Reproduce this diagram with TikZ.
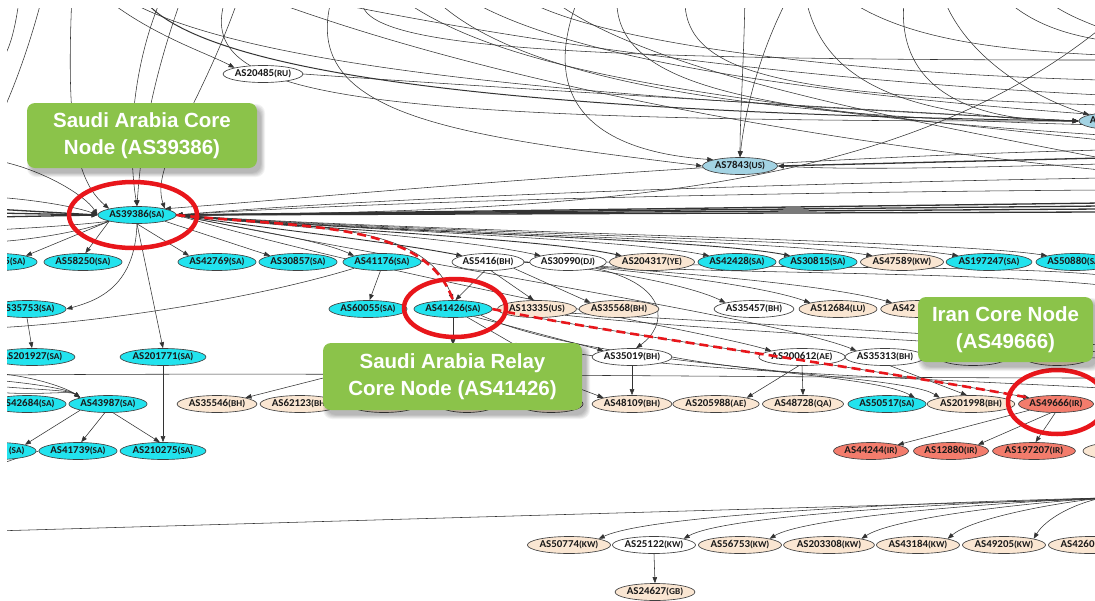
\documentclass[tikz,border=0pt]{standalone}
\usepackage{fontspec}
\setmainfont{Carlito}
\newfontfamily\asfont[FakeStretch=1.04]{Carlito}
\newfontfamily\notefont{Liberation Sans}
\usetikzlibrary{arrows.meta,shapes.geometric}
\pgfdeclarelayer{edgelayer}
\pgfsetlayers{edgelayer,main}

\definecolor{sacyan}{HTML}{22E3EE}
\definecolor{asbeige}{HTML}{FAE6D2}
\definecolor{irsalmon}{HTML}{F37C6C}
\definecolor{usblue}{HTML}{A3D3E3}
\definecolor{notegreen}{HTML}{8BC34A}
\definecolor{markred}{HTML}{E8161B}

% AS number with its country code set smaller
\newcommand\asn[2]{{\fontsize{10.5}{11}\selectfont AS#1}{\fontsize{9}{11}\selectfont(#2)}}
% soft shadow below-right of a callout box (x1,y1,x2,y2)
\newcommand\softshadow[4]{%
  \foreach \sh in {0,...,5}{%
    \fill[black,opacity=0.05,rounded corners=9pt]
      ({#1+4-0.8*\sh},{#2+5-0.8*\sh}) rectangle ({#3+4+0.8*\sh},{#4+5+0.8*\sh});}}

\begin{document}
\begin{tikzpicture}[x=1pt,y=-1pt,
  asnode/.style={ellipse, draw=black!75, line width=0.65pt, minimum width=70pt,
    minimum height=17pt, inner sep=0pt, font=\asfont\bfseries, text=black!90},
  asSA/.style={asnode, fill=sacyan},
  asBE/.style={asnode, fill=asbeige},
  asWH/.style={asnode, fill=white},
  asIR/.style={asnode, fill=irsalmon},
  asUS/.style={asnode, fill=usblue},
  link/.style={draw=black!80, line width=0.55pt, -{Triangle[length=6pt,width=4.5pt]}},
  linkthick/.style={link, line width=1.3pt},
  linkplain/.style={draw=black!80, line width=0.55pt},
  notebox/.style={fill=notegreen, rounded corners=8pt, text=white, align=center,
    inner sep=0pt, font=\notefont\bfseries\fontsize{20.5}{27}\selectfont},
  markring/.style={draw=markred, line width=4.5pt},
  markpath/.style={draw=markred, line width=2.6pt, dash pattern=on 9pt off 5pt}]

\useasboundingbox (0,0) rectangle (1095,600);

% ---------------- nodes ----------------
\begin{scope}
\clip (7,8) rectangle (1095,600);
\node[asWH] (n20485) at (263,74) {\asn{20485}{RU}};
\node[asUS, minimum width=75pt] (n7843) at (740,166) {\asn{7843}{US}};
\node[asUS, minimum width=72pt] (nR) at (1115,121)
  {{\fontsize{10.5}{11}\selectfont A\phantom{S0000}}{\fontsize{9}{11}\selectfont\phantom{(XX)}}};
\node[asSA] (n39386) at (137,215) {\asn{39386}{SA}};

% row 262
\node[asSA] (n5sa) at (-2,262)
  {{\fontsize{10.5}{11}\selectfont\phantom{AS4000}5}{\fontsize{9}{11}\selectfont(SA)}};
\node[asSA] (n58250) at (83,262) {\asn{58250}{SA}};
\node[asSA] (n42769) at (217,262) {\asn{42769}{SA}};
\node[asSA] (n30857) at (298,262) {\asn{30857}{SA}};
\node[asSA] (n41176) at (382,262) {\asn{41176}{SA}};
\node[asWH] (n5416) at (488,262) {\asn{5416}{BH}};
\node[asWH] (n30990) at (568,262) {\asn{30990}{DJ}};
\node[asBE, minimum width=77pt] (n204317) at (652,262) {\asn{204317}{YE}};
\node[asSA] (n42428) at (737,262) {\asn{42428}{SA}};
\node[asSA] (n30815) at (818,262) {\asn{30815}{SA}};
\node[asBE, minimum width=75pt] (n47589) at (902,262) {\asn{47589}{KW}};
\node[asSA, minimum width=76pt] (n197247) at (989,262) {\asn{197247}{SA}};
\node[asSA] (n50880) at (1075,262) {\asn{50880}{SA}};

% row 309
\node[asSA] (n35753) at (27,309) {\asn{35753}{SA}};
\node[asSA] (n60055) at (368,309) {\asn{60055}{SA}};
\node[asSA] (n41426) at (453,309) {\asn{41426}{SA}};
\node[asBE] (n13335) at (537,309) {\asn{13335}{US}};
\node[asBE, minimum width=73pt] (n35568) at (619,309) {\asn{35568}{BH}};
\node[asWH, minimum width=72pt] (n35457) at (754,309) {\asn{35457}{BH}};
\node[asBE] (n12684) at (838,309) {\asn{12684}{LU}};
\node[asBE] (n42x) at (920,309)
  {{\fontsize{10.5}{11}\selectfont AS42\phantom{000}}{\fontsize{9}{11}\selectfont\phantom{(XX)}}};

% row 357
\node[asSA, minimum width=76pt] (n201927) at (32,357) {\asn{201927}{SA}};
\node[asSA, minimum width=76pt] (n201771) at (163,357) {\asn{201771}{SA}};
\node[asWH] (nh357a) at (453,354) {};
\node[asWH] (nh357b) at (545,354) {};
\node[asWH, minimum width=73pt] (n35019) at (632,357) {\asn{35019}{BH}};
\node[asWH, minimum width=76pt] (n200612) at (802,357) {\asn{200612}{AE}};
\node[asWH, minimum width=68pt] (n35313) at (885,357) {\asn{35313}{BH}};
\node[asWH] (nh357c) at (973,357) {};
\node[asBE, minimum width=66pt] (nh357d) at (1057,357) {};

% row 404
\node[asSA] (n42684) at (27,404) {\asn{42684}{SA}};
\node[asSA] (n43987) at (108,404) {\asn{43987}{SA}};
\node[asBE] (n35546) at (217,404) {\asn{35546}{BH}};
\node[asBE] (n62123) at (300,404) {\asn{62123}{BH}};
\node[asBE] (nh404a) at (384,404) {};
\node[asBE, minimum width=58pt] (nh404b) at (467,404) {};
\node[asBE, minimum width=64pt] (nh404c) at (551,404) {};
\node[asBE, minimum width=73pt] (n48109) at (632,404) {\asn{48109}{BH}};
\node[asBE, minimum width=77pt] (n205988) at (716,404) {\asn{205988}{AE}};
\node[asBE, minimum width=73pt] (n48728) at (803,404) {\asn{48728}{QA}};
\node[asSA] (n50517) at (887,404) {\asn{50517}{SA}};
\node[asBE, minimum width=77pt] (n201998) at (971,404) {\asn{201998}{BH}};
\node[asIR, minimum width=68pt] (n49666) at (1056,404) {\asn{49666}{IR}};

% row 451
\node[asSA] (nsa451) at (-3,451)
  {{\fontsize{10.5}{11}\selectfont\phantom{AS00000}}{\fontsize{9}{11}\selectfont(SA)}};
\node[asSA] (n41739) at (78,451) {\asn{41739}{SA}};
\node[asSA, minimum width=76pt] (n210275) at (163,451) {\asn{210275}{SA}};
\node[asIR, minimum width=68pt] (n44244) at (871,451) {\asn{44244}{IR}};
\node[asIR, minimum width=68pt] (n12880) at (951,451) {\asn{12880}{IR}};
\node[asIR, minimum width=73pt] (n197207) at (1034,451) {\asn{197207}{IR}};
\node[asBE] (nbe451) at (1118,451) {};

% row 545 and 592
\node[asBE, minimum width=75pt] (n50774) at (569,545) {\asn{50774}{KW}};
\node[asWH, minimum width=75pt] (n25122) at (654,545) {\asn{25122}{KW}};
\node[asBE, minimum width=75pt] (n56753) at (740,545) {\asn{56753}{KW}};
\node[asBE, minimum width=78pt] (n203308) at (829,545) {\asn{203308}{KW}};
\node[asBE, minimum width=73pt] (n43184) at (918,545) {\asn{43184}{KW}};
\node[asBE, minimum width=75pt] (n49205) at (1004,545) {\asn{49205}{KW}};
\node[asBE, minimum width=75pt] (n4260) at (1090,545)
  {{\fontsize{10.5}{11}\selectfont AS4260\phantom{0}}{\fontsize{9}{11}\selectfont\phantom{(KW)}}};
\node[asBE, minimum width=75pt] (n24627) at (655,592) {\asn{24627}{GB}};
\end{scope}

% ---------------- connectors ----------------
\begin{pgfonlayer}{edgelayer}
\fill[white] (0,0) rectangle (1095,600);
\clip (7,8) rectangle (1095,600);
% free ends beyond the frame
\foreach \xx in {20,43,72,100,117,140,163,183,227,240,253,290,333,363,395,430,460,515,545,580,617,685,745,790,805,840,905,942,1000,1040}
  {\coordinate (t\xx) at (\xx,-6);}
\foreach \yy in {28,40,55,60,80,95,105,115,125,135,140,150,158,164,170,178,190,203,206,209,212,275,285,345,352,358,378,388,498,499}
  {\coordinate (r\yy) at (1101,\yy);}
\foreach \yy in {70,130,160,197,209,213,217,230,242,328,373,375,380,386,392,466,531}
  {\coordinate (l\yy) at (-6,\yy);}

% upper tangle
\draw[linkplain] (t20) .. controls (15,30) and (10,55) .. (l70);
\draw[linkplain] (t43) .. controls (30,45) and (12,95) .. (l130);
\draw[link] (t72) .. controls (66,125) and (75,180) .. (n39386.north west);
\draw[link] (t100) .. controls (150,35) and (205,52) .. (n20485.north west);
\draw[link] (t117) .. controls (240,75) and (650,100) .. (nR.west);
\draw[link, line width=1pt] (t140) .. controls (200,95) and (700,115) .. (nR.west);
\draw[link] (t163) .. controls (130,70) and (128,150) .. (n39386.north);
\draw[link] (t183) .. controls (148,90) and (140,160) .. (n39386.north);
\draw[link] (t240) .. controls (200,110) and (150,165) .. (n39386.north east);
\draw[link] (t227) .. controls (190,95) and (320,122) .. (nR.west);
\draw[linkplain] (t253) .. controls (480,80) and (800,140) .. (r170);
\draw[linkplain] (t290) .. controls (600,60) and (900,85) .. (r95);
\draw[link] (t333) .. controls (295,115) and (450,135) .. (n7843.west);
\draw[linkplain] (t363) .. controls (345,45) and (520,60) .. (r60);
\draw[linkplain] (t395) .. controls (500,75) and (720,100) .. (r140);
\draw[linkplain] (t430) .. controls (520,90) and (800,118) .. (r125);
\draw[linkplain] (t460) .. controls (560,60) and (820,95) .. (r115);
\draw[linkplain] (t515) .. controls (600,50) and (900,75) .. (r80);
\draw[linkplain] (t545) .. controls (630,65) and (850,110) .. (r158);
\draw[link] (t580) .. controls (540,90) and (580,150) .. (n7843.north west);
\draw[linkplain] (t617) .. controls (610,90) and (760,112) .. (r135);
\draw[linkplain] (t685) .. controls (680,75) and (780,95) .. (r105);
\draw[link] (t745) .. controls (744,60) and (740,115) .. (n7843.north);
\draw[link] (t790) .. controls (760,50) and (745,110) .. (n7843.north);
\draw[link] (t805) .. controls (820,80) and (900,118) .. (nR.west);
\draw[link] (t905) .. controls (895,60) and (930,122) .. (nR.west);
\draw[link] (t942) .. controls (965,60) and (1040,100) .. (nR.north west);
\draw[linkplain] (t840) .. controls (900,40) and (1000,50) .. (r55);
\draw[linkplain] (t1000) .. controls (1030,25) and (1070,35) .. (r40);
\draw[linkplain] (t1040) .. controls (1055,10) and (1080,20) .. (r28);
\draw[link] (n20485.east) .. controls (500,88) and (900,112) .. (nR.west);
\draw[link] (r28) .. controls (900,190) and (600,212) .. (n39386.east);
\draw[link] (r150) .. controls (700,160) and (350,195) .. (n39386.north east);
\draw[link] (r178) .. controls (700,185) and (350,200) .. (n39386.east);
\draw[link] (r190) .. controls (800,192) and (400,200) .. (n39386.east);
\draw[linkthick] (r158) -- (n7843.east);
\draw[link] (r164) .. controls (950,168) and (850,170) .. (n7843.east);
\foreach \yy in {203,206,209,212} {\draw[linkthick] (r\yy) -- (n39386.east);}

% left side into and out of the Saudi core node
\draw[link] (l160) .. controls (40,168) and (85,195) .. (n39386.west);
\draw[link] (l197) .. controls (40,200) and (80,208) .. (n39386.west);
\foreach \yy in {209,213,217} {\draw[linkthick] (l\yy) -- (n39386.west);}
\draw[linkplain] (n39386.south west) .. controls (80,225) and (30,228) .. (l230);
\draw[linkplain] (n39386.south west) .. controls (80,232) and (30,240) .. (l242);

% fan from AS39386 to the second row
\draw[link] (n39386.south west) -- (n5sa.north east);
\draw[link] (n39386.south west) -- (n58250.75);
\draw[link] (n39386.south) -- (n42769.north west);
\draw[link] (n39386.south east) -- (n30857.north west);
\draw[link] (n39386.east) .. controls (250,230) and (320,240) .. (n41176.north west);
\draw[link, line width=0.9pt] (n39386.east) .. controls (260,228) and (380,240) .. (n5416.north west);
\draw[link] (n39386.east) .. controls (300,228) and (460,238) .. (n30990.north west);
\draw[link, line width=0.9pt] (n39386.east) .. controls (320,230) and (540,238) .. (n204317.north west);
\draw[link] (n39386.east) .. controls (340,230) and (620,238) .. (n42428.north west);
\draw[link, line width=0.9pt] (n39386.east) .. controls (360,232) and (700,238) .. (n30815.north west);
\draw[link] (n39386.east) .. controls (380,232) and (780,240) .. (n47589.north west);
\draw[link] (n39386.east) .. controls (400,232) and (860,240) .. (n197247.north west);
\draw[link] (n39386.east) .. controls (420,232) and (950,240) .. (n50880.north west);
\draw[link] (n39386.south) .. controls (135,285) and (100,300) .. (n35753.east);
\draw[link] (n39386.south) -- (n201771.north);
\draw[link] (n39386.east) .. controls (400,280) and (700,330) .. (n200612.north west);
\draw[link] (n39386.east) .. controls (450,270) and (780,320) .. (n35313.north west);

% saudi branch below
\draw[link] (n41176.260) -- (n60055.80);
\draw[link] (n41176.south west) .. controls (250,300) and (100,322) .. (l328);
\draw[link] (n35753.south) -- (n201927.north);
\draw[link] (n201771.south) -- (n210275.north);
\foreach \yy in {373,380,386,392} {\draw[link] (l\yy) .. controls (40,\yy+4) and (70,390) .. (n43987.north west);}
\draw[link] (n43987.south west) -- (nsa451.north east);
\draw[link] (n43987.250) -- (n41739.70);
\draw[link] (n43987.300) -- (n210275.110);
\draw[linkplain] (n41739.west) -- (l466);
\draw[linkplain] (l375) .. controls (400,372) and (800,378) .. (r378);

% Bahrain hub and relay node
\draw[link] (n5416.250) -- (n41426.75);
\draw[link] (n5416.290) -- (n13335.110);
\draw[link] (n5416.south east) -- (n35568.north west);
\draw[link] (n5416.east) .. controls (600,268) and (690,285) .. (n35457.north west);
\draw[link] (n5416.east) .. controls (640,270) and (760,285) .. (n12684.north west);
\draw[link] (n5416.east) .. controls (680,272) and (830,285) .. (n42x.north west);
\draw[linkplain] (n5416.east) .. controls (700,275) and (950,270) .. (r285);
\draw[linkplain] (n30990.east) .. controls (800,270) and (1000,265) .. (r275);
\draw[link] (n30990.south east) .. controls (670,285) and (668,325) .. (n35019.65);
\draw[link] (n39386.east) .. controls (300,228) and (425,220) .. (n41426.north);
\draw[link] (n41426.south) -- (nh357a.north);
\draw[link] (n41426.-30) -- (nh357b.north west);
\draw[link] (n41426.-20) -- (n35019.north west);
\draw[linkplain] (n41426.east) .. controls (700,320) and (950,335) .. (r345);
\draw[linkplain] (n13335.south east) .. controls (700,330) and (950,342) .. (r352);
\draw[link] (nh357a.west) -- (n35546.north east);
\draw[link] (nh357a.east) -- (n48109.north west);
\draw[link] (n35019.south) -- (n48109.north);
\draw[link] (n35019.east) .. controls (750,372) and (880,378) .. (n50517.north east);
\draw[link] (n41426.south east) .. controls (600,370) and (900,372) .. (n201998.north west);
\draw[linkplain] (nh357b.east) .. controls (700,372) and (1000,382) .. (r388);
\draw[link] (n200612.250) -- (n205988.north east);
\draw[link] (n200612.south) -- (n48728.north);
\draw[linkplain] (n35313.east) -- (r358);
\draw[link] (n35313.-60) -- (n201998.115);
\draw[link] (n41426.east) .. controls (600,332) and (850,365) .. (n49666.north west);
\draw[link] (n49666.south west) -- (n44244.north east);
\draw[link] (n49666.240) -- (n12880.north east);
\draw[link] (n49666.265) -- (n197207.80);

% Kuwait row
\draw[linkplain] (l531) -- (r499);
\draw[link] (r498) .. controls (900,503) and (650,515) .. (n50774.north east);
\draw[link] (r498) .. controls (900,505) and (720,518) .. (n25122.north east);
\draw[link] (r498) .. controls (950,505) and (800,520) .. (n56753.north east);
\draw[link] (r498) .. controls (1000,505) and (890,520) .. (n203308.north east);
\draw[link] (r498) .. controls (1040,505) and (970,520) .. (n43184.north east);
\draw[link] (r498) .. controls (1070,505) and (1045,520) .. (n49205.north east);
\draw[link] (n25122.south) -- (n24627.north);
\end{pgfonlayer}

% ---------------- highlights and callouts ----------------
\begin{scope}
\clip (7,8) rectangle (1095,600);
\draw[markpath] (n39386.east) .. controls (300,228) and (425,220) .. (n41426.north);
\draw[markpath] (n41426.east) .. controls (600,332) and (850,365) .. (n49666.north west);
\draw[markring] (133,215) ellipse [x radius=64pt, y radius=33pt];
\draw[markring] (455,308) ellipse [x radius=51pt, y radius=29pt];
\draw[markring] (1057,402) ellipse [x radius=49pt, y radius=32pt];

\softshadow{27}{103}{257}{168}
\node[notebox, minimum width=230pt, minimum height=65pt] (note1) at (142,135.5)
  {Saudi Arabia Core\\Node (AS39386)};
\softshadow{323}{343}{582}{410}
\node[notebox, minimum width=259pt, minimum height=67pt] (note2) at (452.5,376.5)
  {Saudi Arabia Relay\\Core Node (AS41426)};
\softshadow{918}{297}{1093}{362}
\node[notebox, minimum width=175pt, minimum height=65pt] (note3) at (1005.5,329.5)
  {Iran Core Node\\(AS49666)};
\end{scope}
\end{tikzpicture}
\end{document}
